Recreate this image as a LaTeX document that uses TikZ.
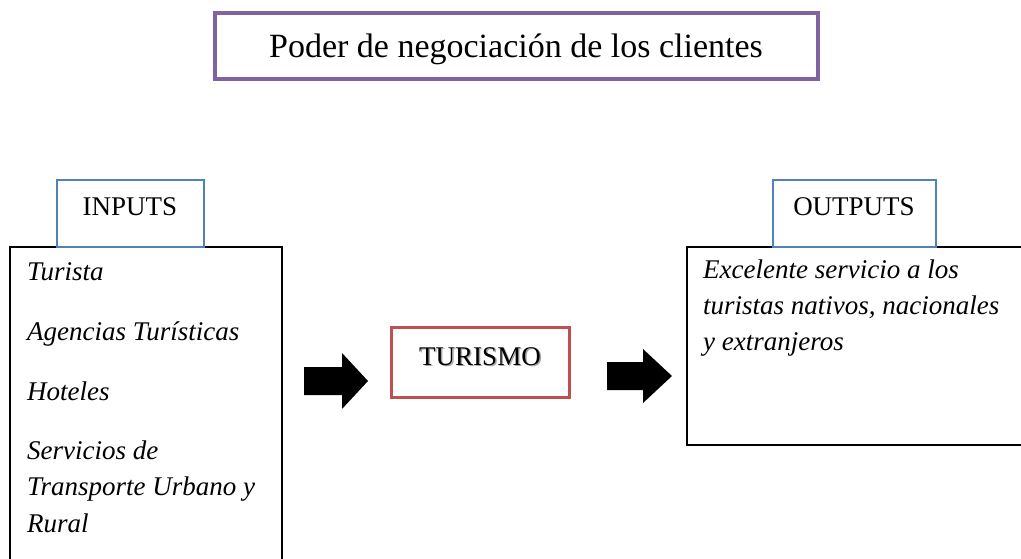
\documentclass[tikz,border=0pt]{standalone}
\usepackage{fontspec}
\setmainfont{Liberation Serif}
\definecolor{cpurple}{HTML}{8064A2}
\definecolor{cblue}{HTML}{4F81BD}
\definecolor{cred}{HTML}{C0504D}
\tikzset{
  txt/.style={inner sep=0pt, font=\fontsize{27}{36}\selectfont},
  itxt/.style={inner sep=0pt, anchor=base west, font=\fontsize{27}{36}\selectfont\itshape},
  blockarrow/.style={fill=black},
}
\begin{document}
\begin{tikzpicture}[x=1pt,y=-1pt]
\useasboundingbox (0,0) rectangle (1021,558);
% title
\draw[cpurple, line width=3.5pt] (215,13) rectangle (818,79);
\node[inner sep=0pt, anchor=base, font=\fontsize{34}{40}\selectfont] (title) at (516,57) {Poder de negociación de los clientes};
% inputs
\draw[black, line width=2pt] (10,247) rectangle (282,575);
\draw[cblue, line width=2pt] (57,180) rectangle (204,247);
\node[txt, anchor=base] (inputs) at (130,215) {INPUTS};
\node[itxt] (i1) at (27,280) {Turista};
\node[itxt] (i2) at (27,340) {Agencias Turísticas};
\node[itxt] (i3) at (27,400) {Hoteles};
\node[itxt] (i4) at (27,459) {Servicios de};
\node[itxt] (i5) at (27,495) {Transporte Urbano y};
\node[itxt] (i6) at (27,532) {Rural};
% arrow 1
\fill[blockarrow] (304,367) -- (342,367) -- (342,353) -- (368,381) -- (342,409) -- (342,395) -- (304,395) -- cycle;
% turismo
\draw[cred, line width=3pt] (391,327) rectangle (569,397);
\node[txt, anchor=base, text=black!35] (tshadow) at (481.5,366.5) {TURISMO};
\node[txt, anchor=base] (turismo) at (480,365) {TURISMO};
% arrow 2
\fill[blockarrow] (607,362) -- (643,362) -- (643,349) -- (672,376) -- (643,403) -- (643,390) -- (607,390) -- cycle;
% outputs
\draw[black, line width=2pt] (687,247) rectangle (1030,445);
\draw[cblue, line width=2pt] (773,180) rectangle (936,247);
\node[txt, anchor=base] (outputs) at (854,215) {OUTPUTS};
\node[itxt] (o1) at (703,278) {Excelente servicio a los};
\node[itxt] (o2) at (703,314) {turistas nativos, nacionales};
\node[itxt] (o3) at (703,350) {y extranjeros};
\end{tikzpicture}
\end{document}
